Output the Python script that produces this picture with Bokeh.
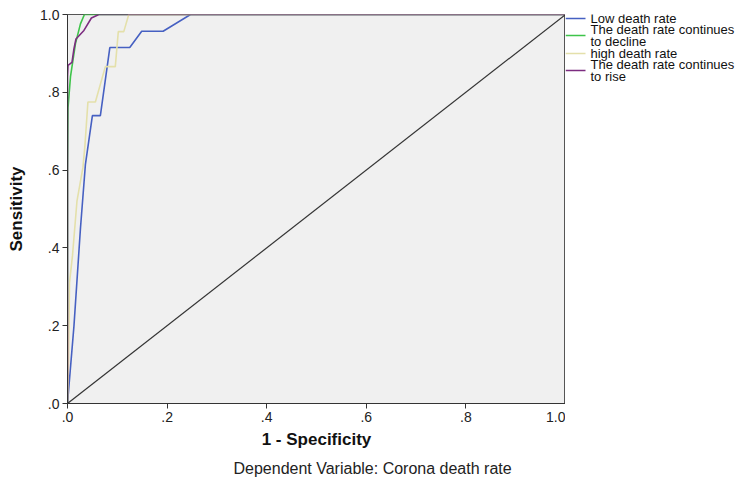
from bokeh.plotting import figure
from bokeh.layouts import row
from bokeh.models import Range1d, FixedTicker, Title
from bokeh.core.properties import value
from bokeh.embed import file_html
from bokeh.resources import INLINE

# ROC curve data (1 - Specificity, Sensitivity)
low_x = [0.0, 0.013, 0.026, 0.036, 0.050, 0.066, 0.085, 0.125, 0.149, 0.192, 0.247, 1.0]
low_y = [0.0, 0.200, 0.450, 0.615, 0.740, 0.740, 0.915, 0.915, 0.957, 0.957, 1.0, 1.0]

decline_x = [0.0, 0.0, 0.001, 0.006, 0.016, 0.026, 0.034, 1.0]
decline_y = [0.0, 0.60, 0.760, 0.840, 0.925, 0.976, 1.0, 1.0]

high_x = [0.0, 0.002, 0.004, 0.010, 0.019, 0.031, 0.035, 0.041, 0.056, 0.076, 0.096, 0.102, 0.113, 0.123, 1.0]
high_y = [0.0, 0.100, 0.310, 0.380, 0.520, 0.607, 0.663, 0.775, 0.775, 0.866, 0.866, 0.956, 0.956, 1.0, 1.0]

rise_x = [0.0, 0.0, 0.001, 0.009, 0.013, 0.017, 0.033, 0.048, 0.063, 1.0]
rise_y = [0.0, 0.840, 0.869, 0.877, 0.912, 0.937, 0.959, 0.991, 1.0, 1.0]

diag_x = [0.0, 1.0]
diag_y = [0.0, 1.0]

series_labels = ["Low death rate", "The death rate continues\nto decline",
                 "high death rate", "The death rate continues\nto rise"]
series_colors = ["#4660C2", "#3EC44A", "#E4E0AA", "#7C2C80"]
tick_vals = [0.0, 0.2, 0.4, 0.6, 0.8, 1.0]
tick_labels = [".0", ".2", ".4", ".6", ".8", "1.0"]

FONT = "Liberation Sans"

p = figure(frame_width=498, frame_height=389, output_backend="svg", toolbar_location=None,
           x_range=Range1d(0, 1), y_range=Range1d(0, 1),
           min_border_left=67, min_border_right=0, min_border_top=14, min_border_bottom=78)

p.background_fill_color = "#F0F0F0"
p.border_fill_color = "white"
p.outline_line_color = "#555555"
p.outline_line_width = 1
p.grid.visible = False

for ax in (p.xaxis[0], p.yaxis[0]):
    ax.ticker = FixedTicker(ticks=tick_vals)
    ax.major_label_overrides = {v: l for v, l in zip(tick_vals, tick_labels)}
    ax.major_tick_in = 0
    ax.major_tick_out = 5
    ax.minor_tick_in = 0
    ax.minor_tick_out = 0
    ax.axis_line_color = "#333333"
    ax.major_tick_line_color = "#333333"
    ax.major_label_text_font = FONT
    ax.major_label_text_font_size = "14px"
    ax.major_label_text_color = "#222222"
    ax.axis_label_text_font = FONT
    ax.axis_label_text_font_size = "17px"
    ax.axis_label_text_font_style = "bold"
    ax.axis_label_text_color = "#111111"

p.xaxis.axis_label = "1 - Specificity"
p.yaxis.axis_label = "Sensitivity"
p.xaxis.major_label_standoff = 3
p.yaxis.major_label_standoff = 3
p.xaxis.axis_label_standoff = 5
p.yaxis.axis_label_standoff = 11

series = [(low_x, low_y), (decline_x, decline_y), (high_x, high_y), (rise_x, rise_y)]
for (xs, ys), col in zip(series, series_colors):
    p.line(xs, ys, line_color=col, line_width=1.6)
p.line(diag_x, diag_y, line_color="#333333", line_width=1.2)

# footer centred on the whole picture (left edge shifted from the frame's left edge)
footer = Title(text="Dependent Variable: Corona death rate", align="left", offset=166,
               standoff=13, text_font=FONT, text_font_size="16px", text_font_style="normal",
               text_color="#222222")
p.add_layout(footer, "below")

# Legend panel to the right of the plot; its frame is aligned with the plot frame,
# and its ranges are set so that coordinates read as canvas pixels (y downwards).
leg = figure(frame_width=174, frame_height=389, output_backend="svg", toolbar_location=None,
             x_axis_type=None, y_axis_type=None,
             x_range=Range1d(0, 174), y_range=Range1d(403, 14),
             min_border_left=0, min_border_right=0, min_border_top=14, min_border_bottom=78)
leg.grid.visible = False
leg.outline_line_color = None
leg.background_fill_color = "white"
leg_y = [18, 35, 53, 70]
leg.segment(x0=[0] * 4, x1=[20] * 4, y0=leg_y, y1=leg_y, line_color=series_colors, line_width=1.6)
leg.text(x=[25] * 4, y=leg_y, text=series_labels, text_font=value(FONT),
         text_font_size="13px", text_baseline="middle", text_align="left",
         text_line_height=0.85, text_color="#111111")

layout = row(p, leg, spacing=0)
open("out.html", "w").write(file_html(layout, INLINE))
